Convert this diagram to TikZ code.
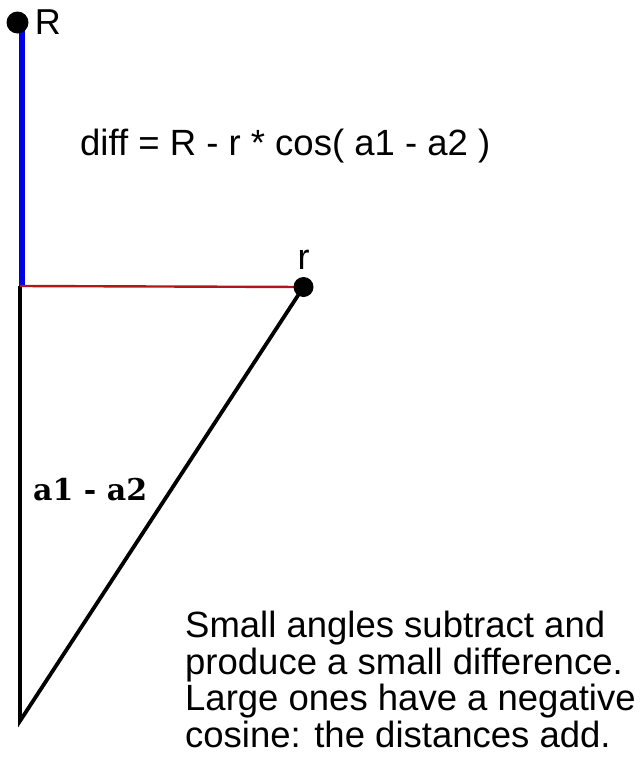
\documentclass[tikz,border=0pt]{standalone}
\usepackage{fontspec}
\setmainfont{Liberation Sans}
\newfontfamily\anglefont{DejaVu Serif}
\usetikzlibrary{positioning}
\definecolor{armblue}{HTML}{0000E6}
\definecolor{projred}{HTML}{B01818}
\tikzstyle{dotnode} = [circle, fill=black, inner sep=0pt, minimum size=22pt]
\tikzstyle{ptname} = [font=\fontsize{36}{36}\selectfont, inner sep=0pt]
\tikzstyle{arm} = [line width=3.8pt, black]
\tikzstyle{note} = [font=\fontsize{36.5}{36.5}\selectfont, align=left, inner sep=0pt]

\begin{document}
\begin{tikzpicture}[x=1pt, y=-1pt]
    \useasboundingbox (0,0) rectangle (640,766);

    % Corners of the triangle
    \coordinate (Rpos) at (17.5,22.5);
    \coordinate (rpos) at (303.5,287);
    \coordinate (corner) at (20,286);
    \coordinate (bluetop) at (22,23);
    \coordinate (bluefoot) at (22,286);
    \coordinate (apex) at (20,721);

    % Triangle
    \draw[arm] (corner) -- (apex) -- (rpos);
    \draw[armblue, line width=6.5pt] (bluetop) -- (bluefoot);
    \draw[projred, line width=2.4pt] (corner) -- (rpos);

    % Points
    \node[dotnode] (bigR) at (Rpos) {};
    \node[dotnode, minimum size=20pt] (smallr) at (rpos) {};
    \node[ptname, right=6pt of bigR] (bigRname) {R};
    \node[ptname, above=7pt of smallr] (smallrname) {r};

    % Texts
    \node[anchor=base west, inner sep=0pt, font=\fontsize{36.5}{36.5}\selectfont] (formula) at (80,155) {diff = R - r * cos( a1 - a2 )};
    \node[anchor=base west, inner sep=0pt, font=\anglefont\bfseries\fontsize{30}{30}\selectfont] (anglename) at (33,500) {a1 - a2};
    \node[note, anchor=north west] (comment) at (185,611) {Small angles subtract and\\produce a small difference.\\Large ones have a negative\\cosine: the distances add.};
\end{tikzpicture}
\end{document}
